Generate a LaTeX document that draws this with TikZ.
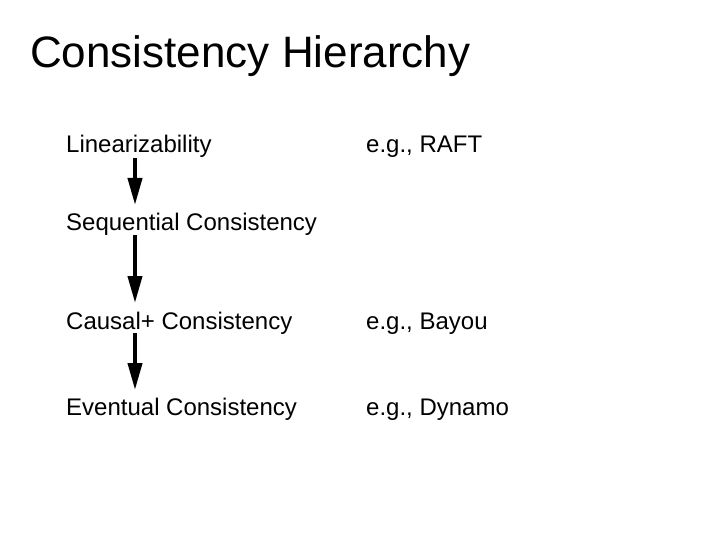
\documentclass[tikz,border=0pt]{standalone}
\usepackage{fontspec}
\setmainfont{Liberation Sans}
\usetikzlibrary{arrows.meta}

\begin{document}
\begin{tikzpicture}[x=1pt,y=1pt,>={Triangle[width=14pt,length=27pt]}]
	% Shrink text for this sheet
	\tikzstyle{every node}=[font=\fontsize{24}{28}\selectfont,anchor=base west,inner sep=0pt]
	\tikzstyle{level arrow}=[->,line width=4pt]

	% fix the page size
	\useasboundingbox (0,0) rectangle (720,-540);

	% the title
	\node[font=\fontsize{44}{52}\selectfont] (title) at (30,-68) {Consistency Hierarchy};

	% the levels, strongest first
	\node (lin) at (66,-153) {Linearizability};
	\node (seq) at (66,-230) {Sequential Consistency};
	\node (causal) at (66,-329) {Causal+ Consistency};
	\node (eventual) at (66,-415) {Eventual Consistency};

	% example systems
	\node (raft) at (366,-153) {e.g., RAFT};
	\node (bayou) at (366,-329) {e.g., Bayou};
	\node (dynamo) at (366,-415) {e.g., Dynamo};

	% arrow ends between the levels
	\coordinate (a1) at (135,-158);
	\coordinate (b1) at (135,-205);
	\coordinate (a2) at (135,-235);
	\coordinate (b2) at (135,-303);
	\coordinate (a3) at (135,-333);
	\coordinate (b3) at (135,-390);

	% draw the arrows
	\foreach \i in {1,2,3}
		\draw[level arrow] (a\i) -- (b\i);
\end{tikzpicture}
\end{document}
